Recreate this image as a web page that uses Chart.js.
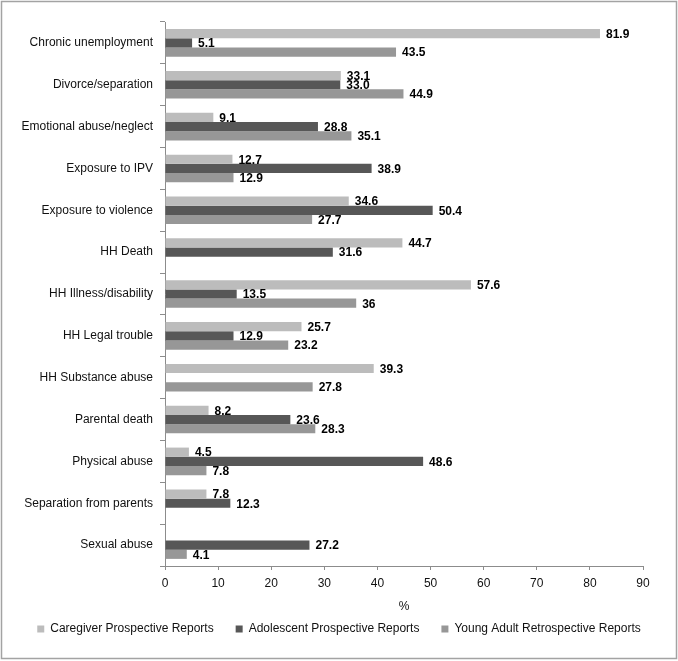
<!DOCTYPE html>
<html>
<head>
<meta charset="utf-8">
<script src="https://cdn.jsdelivr.net/npm/chart.js@4.4.0/dist/chart.umd.min.js"></script>
<style>
  html, body { margin: 0; padding: 0; background: #fff; }
  #wrap { position: relative; width: 678px; height: 661px; }
</style>
</head>
<body>
<div id="wrap"><canvas id="chart" width="678" height="661"></canvas></div>
<script>
const categories = [
  'Chronic unemployment', 'Divorce/separation', 'Emotional abuse/neglect', 'Exposure to IPV',
  'Exposure to violence', 'HH Death', 'HH Illness/disability', 'HH Legal trouble',
  'HH Substance abuse', 'Parental death', 'Physical abuse', 'Separation from parents', 'Sexual abuse'
];
// values kept as text so labels show exactly as in the source ("33.0", "36")
const caregiverValues = ['81.9', '33.1', '9.1', '12.7', '34.6', '44.7', '57.6', '25.7', '39.3', '8.2', '4.5', '7.8', null];
const adolescentValues = ['5.1', '33.0', '28.8', '38.9', '50.4', '31.6', '13.5', '12.9', null, '23.6', '48.6', '12.3', '27.2'];
const youngAdultValues = ['43.5', '44.9', '35.1', '12.9', '27.7', null, '36', '23.2', '27.8', '28.3', '7.8', null, '4.1'];
const xTicks = [0, 10, 20, 30, 40, 50, 60, 70, 80, 90];

const FONT = "'Liberation Sans', Arial, sans-serif";

// value labels at the end of each bar
const valueLabels = {
  id: 'valueLabels',
  afterDatasetsDraw(chart) {
    const ctx = chart.ctx;
    ctx.save();
    ctx.font = 'bold 12px ' + FONT;
    ctx.fillStyle = '#000';
    ctx.textBaseline = 'middle';
    ctx.textAlign = 'left';
    chart.data.datasets.forEach((ds, i) => {
      const meta = chart.getDatasetMeta(i);
      meta.data.forEach((bar, j) => {
        const v = ds.data[j];
        if (v === null) return;
        ctx.fillText(v, bar.x + 6, bar.y + 1);
      });
    });
    ctx.restore();
  }
};

// outer frame
const frame = {
  id: 'frame',
  afterDraw(chart) {
    const ctx = chart.ctx;
    ctx.save();
    ctx.strokeStyle = '#a3a3a3';
    ctx.lineWidth = 1.5;
    ctx.strokeRect(1.5, 1.5, 675, 657);
    ctx.restore();
  }
};

new Chart(document.getElementById('chart').getContext('2d'), {
  type: 'bar',
  data: {
    labels: categories,
    datasets: [
      { label: 'Caregiver Prospective Reports', data: caregiverValues, backgroundColor: '#bcbcbc' },
      { label: 'Adolescent Prospective Reports', data: adolescentValues, backgroundColor: '#575757' },
      { label: 'Young Adult Retrospective Reports', data: youngAdultValues, backgroundColor: '#979797' }
    ]
  },
  options: {
    indexAxis: 'y',
    responsive: false,
    animation: false,
    maintainAspectRatio: false,
    layout: { padding: { top: 22, right: 0, left: 0, bottom: 16 } },
    datasets: { bar: { categoryPercentage: 0.66, barPercentage: 1.0 } },
    scales: {
      y: {
        afterFit(axis) { axis.width = 165; },
        grid: { display: true, drawOnChartArea: false, offset: true, tickLength: 5, color: '#8c8c8c' },
        border: { color: '#8c8c8c' },
        ticks: { color: '#111', font: { family: FONT, size: 12 }, padding: 7 }
      },
      // empty spacer on the right so the legend can use the full width
      yRight: {
        type: 'linear',
        position: 'right',
        afterFit(axis) { axis.width = 35; },
        grid: { display: false },
        border: { display: false },
        ticks: { display: false }
      },
      x: {
        min: 0,
        max: 90,
        afterBuildTicks(axis) { axis.ticks = xTicks.map(v => ({ value: v })); },
        grid: { display: true, drawOnChartArea: false, tickLength: 4, color: '#8c8c8c' },
        border: { color: '#8c8c8c' },
        ticks: { color: '#111', font: { family: FONT, size: 12 }, padding: 6 },
        title: { display: true, text: '%', color: '#111', font: { family: FONT, size: 12 }, padding: { top: 3.4, bottom: -13.2 } }
      }
    },
    plugins: {
      legend: {
        position: 'bottom',
        labels: {
          color: '#111',
          font: { family: FONT, size: 12 },
          boxWidth: 7,
          boxHeight: 7,
          padding: 22
        }
      },
      tooltip: { enabled: false }
    }
  },
  plugins: [valueLabels, frame]
});
</script>
</body>
</html>
